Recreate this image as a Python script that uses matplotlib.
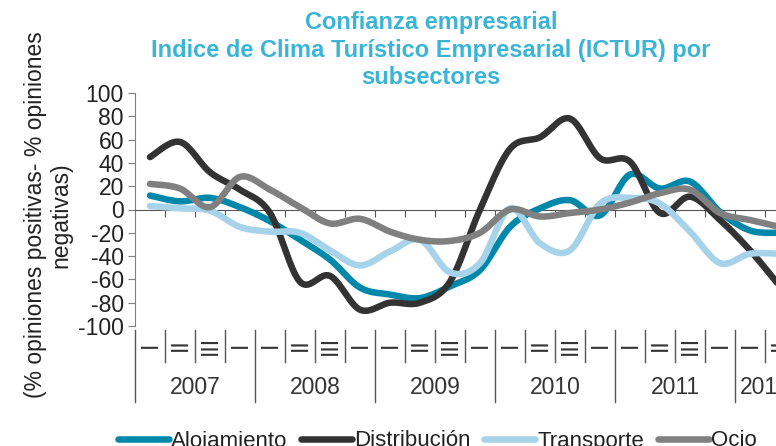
import numpy as np
import matplotlib
matplotlib.use("Agg")
import matplotlib.pyplot as plt
from matplotlib.lines import Line2D

plt.rcParams['font.family'] = ['Liberation Sans', 'DejaVu Sans']
plt.rcParams['axes.unicode_minus'] = False

# datos trimestrales 2007 T1 .. 2012 T2
years = ['2007', '2008', '2009', '2010', '2011', '2012']
quarters = ['I', 'II', 'III', 'I']
alojamiento = [12, 7, 10, 2, -10, -26, -43, -67, -73, -76, -66, -52,
               -15, 1, 8, -5, 30, 18, 24, -2, -18, -20]
distribucion = [45, 58, 32, 17, -3, -62, -57, -86, -80, -80, -62, 0,
                52, 62, 78, 44, 41, -3, 11, -9, -35, -66]
transporte = [3, 1, -1, -15, -19, -20, -35, -48, -36, -26, -54, -46,
              1, -29, -35, 5, 10, 5, -19, -46, -38, -38]
ocio = [22, 18, 2, 28, 17, 2, -12, -8, -19, -26, -27, -20,
        0, -6, -3, 0, 6, 14, 17, -3, -9, -15]

series = [('Alojamiento', alojamiento, '#0088aa'),
          ('Distribución', distribucion, '#333333'),
          ('Transporte', transporte, '#a6d3ea'),
          ('Ocio', ocio, '#808080')]


def suavizar(x, y, n=20):
    # curva tipo Catmull-Rom (similar a la linea suavizada de Excel)
    x = np.asarray(x, float)
    y = np.asarray(y, float)
    px = np.concatenate([[x[0]], x, [x[-1]]])
    py = np.concatenate([[y[0]], y, [y[-1]]])
    xs, ys = [], []
    t = np.linspace(0, 1, n, endpoint=False)
    for i in range(1, len(px) - 2):
        for p, out in ((px, xs), (py, ys)):
            p0, p1, p2, p3 = p[i - 1], p[i], p[i + 1], p[i + 2]
            out.extend(0.5 * (2 * p1 + (-p0 + p2) * t
                              + (2 * p0 - 5 * p1 + 4 * p2 - p3) * t ** 2
                              + (-p0 + 3 * p1 - 3 * p2 + p3) * t ** 3))
    xs.append(x[-1])
    ys.append(y[-1])
    return np.array(xs), np.array(ys)


W, H = 776, 446
nq = len(alojamiento)
fig = plt.figure(figsize=(W / 100, H / 100), dpi=100)
ax = fig.add_axes([135 / W, 1 - 326 / H, 30 * nq / W, 233 / H])

xq = np.arange(nq) + 0.5
for nombre, vals, color in series:
    sx, sy = suavizar(xq, vals)
    ax.plot(sx, sy, color=color, lw=4.7, solid_capstyle='round', label=nombre, zorder=3)

ax.set_xlim(0, nq)
ax.set_ylim(-100, 100)
ax.set_yticks(range(-100, 101, 20))
ax.tick_params(axis='y', labelsize=16.5, length=5, color='#808080', labelcolor='#222222', pad=3)

for s in ['top', 'right']:
    ax.spines[s].set_visible(False)
ax.spines['left'].set_color('#808080')
ax.spines['bottom'].set_position(('data', 0))
ax.spines['bottom'].set_color('#555555')
ax.set_xticks(range(1, nq))
ax.tick_params(axis='x', length=5, color='#555555', labelbottom=False)

# eje de categorias (trimestres y años) debajo del grafico
tr = ax.transAxes
for i in range(nq + 1):
    xf = i / nq
    y_end = -0.326 if (i % 4 == 0 or i == nq) else -0.155
    ax.add_line(Line2D([xf, xf], [-0.017, y_end], transform=tr, color='#555555',
                       lw=1, clip_on=False))
for i in range(nq):
    ax.text((i + 0.5) / nq, -0.082, quarters[i % 4], transform=tr, rotation=90,
            ha='center', va='center', fontsize=16.5, color='#333333', clip_on=False)
for k, yr in enumerate(years):
    a, b = 4 * k, min(4 * k + 4, nq)
    ax.text((a + b) / 2 / nq, -0.262, yr, transform=tr, ha='center', va='center',
            fontsize=16.5, color='#333333', clip_on=False)

fig.text(48 / W, 1 - 215 / H, '(% opiniones positivas- % opiniones\nnegativas)',
         rotation=90, ha='center', va='center', multialignment='center',
         fontsize=16.5, color='#222222', linespacing=1.15)

titulo = ['Confianza empresarial',
          'Indice de Clima Turístico Empresarial (ICTUR) por',
          'subsectores']
for linea, yp in zip(titulo, [22, 50, 77]):
    fig.text(431 / W, 1 - yp / H, linea, ha='center', va='center', fontsize=17,
             fontweight='bold', color='#3bb4d6')

fig.legend(loc='center left', bbox_to_anchor=(118 / W, 1 - 441 / H), ncol=4,
           frameon=False, fontsize=16, handlelength=2.3, handletextpad=0.1,
           columnspacing=0.6, borderpad=0, borderaxespad=0, labelcolor='#222222')

fig.savefig('out.png', dpi=100)
